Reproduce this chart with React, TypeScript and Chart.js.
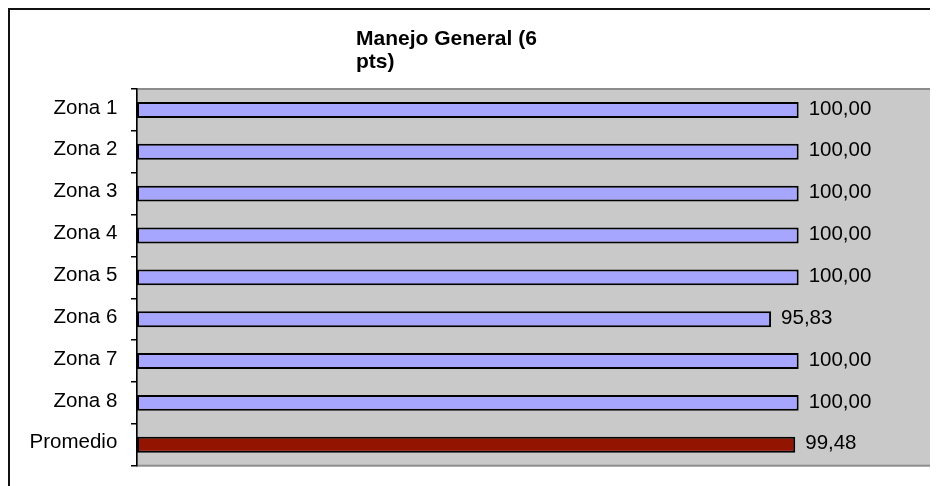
import React, { useEffect, useRef } from "react";
import { Chart, registerables } from "chart.js";

Chart.register(...registerables);

const categories = ["Zona 1 ", "Zona 2 ", "Zona 3 ", "Zona 4 ", "Zona 5 ", "Zona 6 ", "Zona 7 ", "Zona 8 ", "Promedio "];
const values = [100, 100, 100, 100, 100, 95.83, 100, 100, 99.48];
const titleLines = ["Manejo General (6", "pts)"];
const xMin = 0;
const xMax = 120;

const FONT = '"Liberation Sans", Arial, sans-serif';
const zoneColor = "#A6A6FF";
const avgColor = "#931400";

const plotBgPlugin = {
  id: "plotBg",
  beforeDraw(chart: any) {
    const { ctx, chartArea } = chart;
    const { left, top, right, bottom } = chartArea;
    ctx.save();
    ctx.fillStyle = "#C9C9C9";
    ctx.fillRect(left, top, right - left, bottom - top);
    ctx.strokeStyle = "#8C8C8C";
    ctx.lineWidth = 2;
    ctx.strokeRect(left, top, right - left, bottom - top);
    ctx.restore();
  },
};

const titlePlugin = {
  id: "leftTitle",
  afterDraw(chart: any) {
    const { ctx } = chart;
    ctx.save();
    ctx.font = `bold 21px ${FONT}`;
    ctx.fillStyle = "#000";
    ctx.textAlign = "left";
    ctx.textBaseline = "alphabetic";
    titleLines.forEach((line, i) => {
      ctx.fillText(line, 346, 35 + i * 22.7);
    });
    ctx.restore();
  },
};

const valueLabelPlugin = {
  id: "valueLabels",
  afterDatasetsDraw(chart: any) {
    const { ctx } = chart;
    const meta = chart.getDatasetMeta(0);
    ctx.save();
    ctx.font = `20.5px ${FONT}`;
    ctx.fillStyle = "#000";
    ctx.textAlign = "left";
    ctx.textBaseline = "middle";
    meta.data.forEach((bar: any, i: number) => {
      const txt = values[i].toFixed(2).replace(".", ",");
      ctx.fillText(txt, bar.x + 10, bar.y - 1);
    });
    ctx.restore();
  },
};

export default function App() {
  const canvasRef = useRef<HTMLCanvasElement>(null);

  useEffect(() => {
    if (!canvasRef.current) return;
    const chart = new Chart(canvasRef.current, {
      type: "bar",
      data: {
        labels: categories,
        datasets: [
          {
            data: values,
            backgroundColor: values.map((_, i) => (i === values.length - 1 ? avgColor : zoneColor)),
            borderColor: "#000",
            borderWidth: 2,
            borderSkipped: false,
            barPercentage: 0.38,
            categoryPercentage: 1,
          },
        ],
      },
      options: {
        indexAxis: "y",
        responsive: false,
        animation: false,
        layout: { padding: { left: 0, top: 79, right: 7, bottom: 14 } },
        plugins: {
          legend: { display: false },
          title: { display: false },
          tooltip: { enabled: false },
        },
        scales: {
          x: {
            display: false,
            min: xMin,
            max: xMax,
          },
          y: {
            afterFit: (s: any) => {
              s.width = 127;
            },
            border: { display: true, color: "#000", width: 1.5 },
            grid: {
              display: true,
              drawOnChartArea: false,
              drawTicks: true,
              tickLength: 6,
              color: "#000",
              lineWidth: 1.5,
              offset: true,
            },
            ticks: {
              color: "#000",
              padding: 8,
              font: { size: 20.5, family: FONT },
              labelOffset: -2,
            },
          },
        },
      },
      plugins: [plotBgPlugin, titlePlugin, valueLabelPlugin],
    });
    return () => chart.destroy();
  }, []);

  return (
    <div
      style={{
        width: 930,
        height: 478,
        borderLeft: "2px solid #111",
        borderTop: "2px solid #111",
        boxSizing: "border-box",
        background: "#fff",
        overflow: "hidden",
      }}
    >
      <canvas ref={canvasRef} width={928} height={476} style={{ display: "block" }} />
    </div>
  );
}
